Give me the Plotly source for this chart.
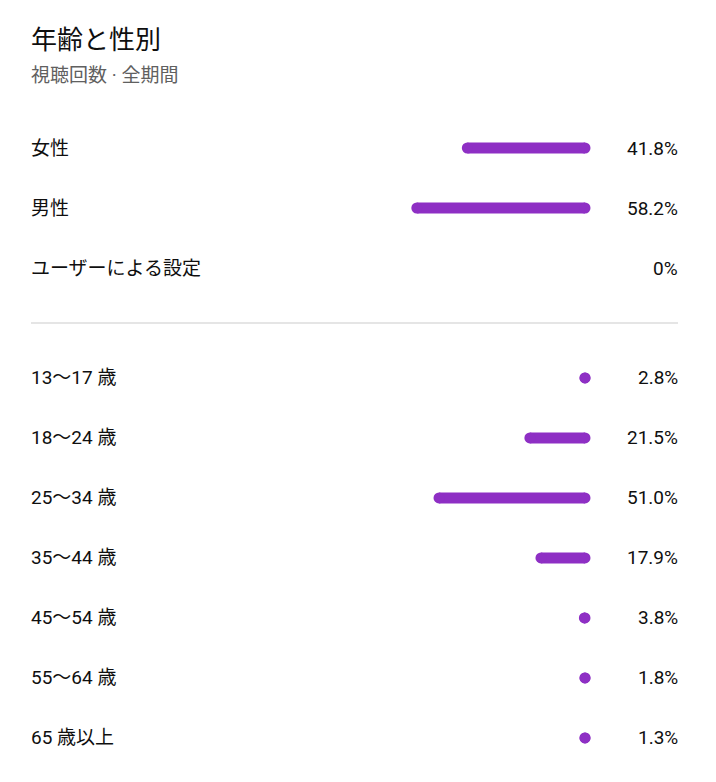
import plotly.graph_objects as go

# ---- data ----
title = "年齢と性別"
subtitle = "視聴回数 · 全期間"
gender_labels = ["女性", "男性", "ユーザーによる設定"]
gender_values = [41.8, 58.2, 0.0]
age_labels = ["13〜17 歳", "18〜24 歳", "25〜34 歳", "35〜44 歳", "45〜54 歳", "55〜64 歳", "65 歳以上"]
age_values = [2.8, 21.5, 51.0, 17.9, 3.8, 1.8, 1.3]

# ---- style ----
BAR_COLOR = "#8e2fc4"
TEXT_COLOR = "#0f0f0f"
SUB_COLOR = "#606060"
DIV_COLOR = "#e5e5e5"
FONT = "Roboto, 'Noto Sans CJK JP', sans-serif"
W, H = 716, 782
BAR_PX = 11          # bar thickness in px
CAP = 3.6            # rounded cap width in data units (percent)
GAP = 0.833          # extra spacing between the two blocks (rows)
LEFT_X = 29 / W
RIGHT_X = 680 / W

labels = gender_labels + age_labels
values = gender_values + age_values
ypos = list(range(len(gender_labels))) + [len(gender_labels) + GAP + j for j in range(len(age_labels))]

line_x, line_y, end_x, end_y = [], [], [], []
for v, y in zip(values, ypos):
    if v <= 0:
        continue
    x0 = -max(v - CAP, 0)
    line_x += [x0, 0, None]
    line_y += [y, y, None]
    end_x += [x0, 0]
    end_y += [y, y]

fig = go.Figure()
fig.add_trace(go.Scatter(x=line_x, y=line_y, mode="lines",
                         line=dict(color=BAR_COLOR, width=BAR_PX),
                         hoverinfo="skip", showlegend=False))
fig.add_trace(go.Scatter(x=end_x, y=end_y, mode="markers",
                         marker=dict(color=BAR_COLOR, size=BAR_PX, line=dict(width=0)),
                         hoverinfo="skip", showlegend=False))

ann = []
ann.append(dict(text=title, xref="paper", yref="paper", x=LEFT_X, y=1 - 40 / H,
                xanchor="left", yanchor="middle", showarrow=False,
                font=dict(size=26, color=TEXT_COLOR, family=FONT)))
ann.append(dict(text=subtitle, xref="paper", yref="paper", x=LEFT_X, y=1 - 75 / H,
                xanchor="left", yanchor="middle", showarrow=False,
                font=dict(size=19, color=SUB_COLOR, family=FONT)))
for lab, v, y in zip(labels, values, ypos):
    ann.append(dict(text=lab, xref="paper", yref="y", x=LEFT_X, y=y,
                    xanchor="left", yanchor="middle", showarrow=False,
                    font=dict(size=19, color=TEXT_COLOR, family=FONT)))
    ann.append(dict(text=(f"{v:.1f}%" if v > 0 else "0%"), xref="paper", yref="y", x=RIGHT_X, y=y,
                    xanchor="right", yanchor="middle", showarrow=False,
                    font=dict(size=19, color=TEXT_COLOR, family=FONT)))

div_y = (len(gender_labels) - 1 + len(gender_labels) + GAP) / 2
fig.update_layout(
    width=W, height=H,
    margin=dict(l=0, r=0, t=0, b=0),
    paper_bgcolor="white", plot_bgcolor="white",
    annotations=ann,
    shapes=[dict(type="line", xref="paper", yref="y", x0=31 / W, x1=678 / W,
                 y0=div_y, y1=div_y, line=dict(color=DIV_COLOR, width=2))],
    xaxis=dict(range=[-585 / 3.08, (W - 585) / 3.08], visible=False, fixedrange=True),
    yaxis=dict(range=[(H - 148) / 60, -148 / 60], visible=False, fixedrange=True),
    hovermode=False,
)
fig.write_html("out.html", config={"displayModeBar": False})
